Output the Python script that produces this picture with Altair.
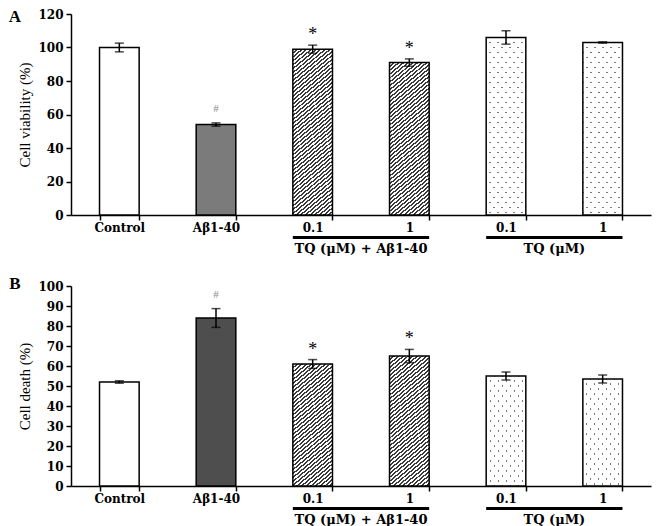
import math
import altair as alt
import pandas as pd

# ---------------- data ----------------
keys = ["Control", "Aβ1-40", "0.1|TQ+Aβ", "1|TQ+Aβ", "0.1|TQ", "1|TQ"]
styles = ["white", "solid", "hatch", "hatch", "dots", "dots"]
viability = [100, 54, 99, 91, 106, 103]
viability_err = [2.6, 1.0, 2.4, 2.2, 4.0, 0.4]
death = [52, 84, 61, 65, 55, 53.5]
death_err = [0.6, 4.7, 2.2, 3.3, 2.0, 2.0]
sig_marks = ["", "#", "*", "*", "", ""]
group_starts = ["0.1|TQ+Aβ", "0.1|TQ"]
group_ends = ["1|TQ+Aβ", "1|TQ"]
group_labels = ["TQ (μM) + Aβ1-40", "TQ (μM)"]
panel_letters = ["A", "B"]

# ---------------- layout / style ----------------
W = 580
H_A = 201
H_B = 200
P_IN = 0.59
STEP = W / (len(keys) - P_IN + 2 * P_IN / 2)
BW = STEP * (1 - P_IN)
SERIF = "Liberation Serif"
LABF = "DejaVu Serif"


def stripes(w, h, nx, ny, period, lw, line_col, bg_col):
    n = math.hypot(nx, ny)
    nx, ny = nx / n, ny / n
    corners = [(0, 0), (w, 0), (0, h), (w, h)]
    proj = [nx * X + ny * Y for X, Y in corners]
    i0 = min(range(4), key=lambda i: proj[i])
    pmin = proj[i0]
    R = max(proj) - pmin
    X1, Y1 = corners[i0]
    c = R / (w * w * nx * nx + h * h * ny * ny)
    x1, y1 = X1 / w, Y1 / h
    x2, y2 = x1 + w * nx * c, y1 + h * ny * c
    stops = [{"offset": 0, "color": bg_col}]
    k = math.floor((pmin - lw) / period)
    while True:
        center = k * period - pmin
        if center - lw / 2 >= R:
            break
        s = max(0.0, (center - lw / 2) / R)
        e = min(1.0, (center + lw / 2) / R)
        if e > 0 and s < 1:
            s, e = round(s, 5), round(e, 5)
            stops += [{"offset": s, "color": bg_col}, {"offset": s, "color": line_col},
                      {"offset": e, "color": line_col}, {"offset": e, "color": bg_col}]
        k += 1
    stops.append({"offset": 1, "color": bg_col})
    return {"gradient": "linear", "x1": x1, "y1": y1, "x2": x2, "y2": y2, "stops": stops}


def panel(values, errs, ymax, ystep, H, title, letter, letter_y, solid):
    df = pd.DataFrame({
        "key": keys,
        "value": values,
        "lo": [v - e for v, e in zip(values, errs)],
        "hi": [v + e for v, e in zip(values, errs)],
        "sig": sig_marks,
    })
    xscale = alt.Scale(domain=keys, paddingInner=P_IN, paddingOuter=P_IN / 2)
    xaxis = alt.Axis(labelExpr="isValid(datum.value) ? split(datum.value, '|')[0] : ''",
                     labelAngle=0, tickBand="extent",
                     tickSize=5, labelPadding=2, labelFont=LABF, labelFontWeight="bold",
                     labelFontSize=12, labelColor="black", domainColor="black",
                     tickColor="black", domainWidth=1.5, tickWidth=1.5, title=None)
    yscale = alt.Scale(domain=[0, ymax], nice=False)
    yaxis = alt.Axis(values=list(range(0, ymax + 1, ystep)), tickSize=5, labelPadding=3,
                     labelFont=LABF, labelFontWeight="bold", labelFontSize=12,
                     labelColor="black", domainColor="black", tickColor="black",
                     domainWidth=1.5, tickWidth=1.5, grid=False, title=title,
                     titleFont=SERIF, titleFontSize=15, titleFontWeight="normal",
                     titleColor="black", titlePadding=5)
    X = alt.X("key:N", scale=xscale, axis=xaxis, sort=keys, title=None)

    def Y(f):
        return alt.Y(f + ":Q", scale=yscale, axis=yaxis, title=title)

    base = alt.Chart(df)
    layers = []
    for i, k in enumerate(keys):
        h = values[i] / ymax * H
        st = styles[i]
        sub = base.transform_filter(alt.datum.key == k)
        if st == "white":
            fill = "white"
        elif st == "solid":
            fill = solid
        elif st == "hatch":
            ang = math.radians(40)
            fill = stripes(BW, h, math.sin(ang), math.cos(ang), 3.0, 1.4, "#3a3a3a", "white")
        else:
            fill = stripes(BW, h, 5, -4, 40 / math.sqrt(41), 1.4, "#7a7a7a", "white")
        layers.append(sub.mark_bar(fill=fill, strokeWidth=0).encode(x=X, y=Y("value")))
        if st == "dots":
            mask = stripes(BW, h, 5, 4, 40 / math.sqrt(41), 1.4, "rgba(255,255,255,0)", "white")
            layers.append(sub.mark_bar(fill=mask, strokeWidth=0).encode(x=X, y=Y("value")))
    # outlines
    layers.append(base.mark_bar(fill="white", fillOpacity=0, stroke="black", strokeWidth=1.5)
                  .encode(x=X, y=Y("value")))
    # error bars
    layers.append(base.mark_rule(color="black", strokeWidth=1.5)
                  .encode(x=X, y=Y("lo"), y2="hi:Q"))
    layers.append(base.mark_tick(color="black", size=9, thickness=1.5, orient="horizontal")
                  .encode(x=X, y=Y("lo")))
    layers.append(base.mark_tick(color="black", size=9, thickness=1.5, orient="horizontal")
                  .encode(x=X, y=Y("hi")))
    # significance
    layers.append(base.transform_filter(alt.datum.sig == "*")
                  .mark_text(font=SERIF, fontSize=18, color="black", baseline="alphabetic", dy=-5)
                  .encode(x=X, y=Y("hi"), text="sig:N"))
    layers.append(base.transform_filter(alt.datum.sig == "#")
                  .mark_text(font=SERIF, fontSize=11, color="#8a8a8a", baseline="alphabetic", dy=-11)
                  .encode(x=X, y=Y("hi"), text="sig:N"))
    # group brackets
    gdf = pd.DataFrame({"start": group_starts, "end": group_ends, "label": group_labels})
    gbase = alt.Chart(gdf)
    XS = alt.X("start:N", scale=xscale, axis=xaxis, title=None)
    layers.append(base.transform_filter(alt.FieldOneOfPredicate(field="key", oneOf=keys[2:]))
                  .mark_bar(color="black")
                  .encode(x=X, y=alt.value(H + 21), y2=alt.value(H + 24)))
    layers.append(gbase.mark_rule(color="black", strokeWidth=3)
                  .encode(x=XS, x2="end:N", y=alt.value(H + 22.5)))
    layers.append(gbase.mark_text(font=LABF, fontWeight="bold", fontSize=13, color="black",
                                  dx=STEP / 2, baseline="middle")
                  .encode(x=XS, y=alt.value(H + 34), text="label:N"))
    # panel letter
    ldf = pd.DataFrame({"t": [letter]})
    layers.append(alt.Chart(ldf).mark_text(font=SERIF, fontWeight="bold", fontSize=17,
                                           color="black", align="center", baseline="middle")
                  .encode(x=alt.value(-56), y=alt.value(letter_y), text="t:N"))
    return alt.layer(*layers).properties(width=W, height=H)


pa = panel(viability, viability_err, 120, 20, H_A, "Cell viability (%)", panel_letters[0], 3, "#7b7b7b")
pb = panel(death, death_err, 100, 10, H_B, "Cell death (%)", panel_letters[1], -2, "#4e4e4e")

chart = alt.vconcat(pa, pb, spacing=19).properties(
    padding={"left": 0, "top": 0, "right": 2, "bottom": 0}
).configure_view(stroke=None)

chart.save("out.html", embed_options={"renderer": "svg", "actions": False})
